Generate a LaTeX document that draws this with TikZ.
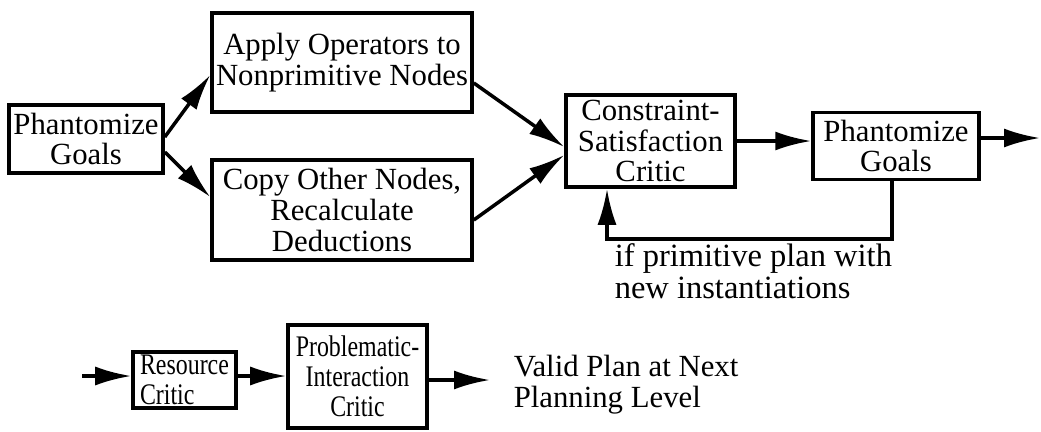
\documentclass[tikz,border=0pt]{standalone}
\usepackage{fontspec}
\newfontfamily\figserif{Liberation Serif}
\newfontfamily\fignarrow{Liberation Serif}[FakeStretch = 0.8]
\usetikzlibrary{arrows.meta}

\begin{document}
\begin{tikzpicture}[-{Latex[length=0.72cm, width=0.38cm]}, line width = 2pt,
stage/.style = { rectangle, draw, line width = 2pt, inner sep = 1pt, align = center,
font = \figserif\fontsize{17.5}{17.5}\selectfont},
critic/.style = { stage, inner sep = 0.5pt, font = \fignarrow\fontsize{17}{17}\selectfont},
note/.style = { align = left, font = \figserif\fontsize{17.5}{17.5}\selectfont, inner sep = 0pt}]
\useasboundingbox (0,0) rectangle (20.82,8.62);
\node[stage, minimum width = 3.08cm, minimum height = 1.36cm] (phant) at (1.72, 5.84) {Phantomize\\Goals};
\node[stage, minimum width = 5.2cm, minimum height = 1.98cm] (apply) at (6.84, 7.37) {Apply Operators to\\Nonprimitive Nodes};
\node[stage, minimum width = 5.2cm, minimum height = 2.0cm] (copy) at (6.84, 4.42) {Copy Other Nodes,\\Recalculate\\Deductions};
\node[stage, minimum width = 3.38cm, minimum height = 1.84cm] (csc) at (13.01, 5.80) {Constraint-\\Satisfaction\\Critic};
\node[stage, minimum width = 3.32cm, minimum height = 1.34cm] (phant2) at (17.92, 5.70) {Phantomize\\Goals};
\node[critic, align = left, minimum width = 2.06cm, minimum height = 1.12cm] (res) at (3.69, 1.02) {Resource\\Critic};
\node[critic, minimum width = 2.78cm, minimum height = 2.06cm] (prob) at (7.15, 1.09) {Problematic-\\Interaction\\Critic};
\node[note, anchor = west] (valid) at (10.24, 0.92) {Valid Plan at Next\\Planning Level};
\node[note, anchor = west, font = \figserif\fontsize{18.5}{18}\selectfont] (cond) at (12.26, 3.2) {if primitive plan with\\new instantiations};
\coordinate (out) at (20.8, 5.86);
\coordinate (fb) at (12.14, 3.84);
\coordinate (in) at (1.64, 1.10);
\coordinate (vend) at (9.8, 1.02);
% expansion of the plan
\draw ([yshift=0.04cm]phant.east) -- ([yshift=-0.25cm]apply.west);
\draw ([yshift=-0.26cm]phant.east) -- ([yshift=0.26cm]copy.west);
\draw ([yshift=-0.41cm]apply.east) -- ([yshift=-0.12cm]csc.west);
\draw ([yshift=-0.2cm]copy.east) -- ([yshift=-0.28cm]csc.west);
\draw (csc.east) -- (csc.east -| phant2.west);
\draw ([yshift=0.16cm]phant2.east) -- (out);
% loop back
\draw ([xshift=-0.08cm]phant2.south) |- (fb) -- (fb |- csc.south);
% critics
\draw (in) -- (in -| res.west);
\draw (res.east |- in) -- (prob.west |- in);
\draw (prob.east |- vend) -- (vend);
\end{tikzpicture}
\end{document}
